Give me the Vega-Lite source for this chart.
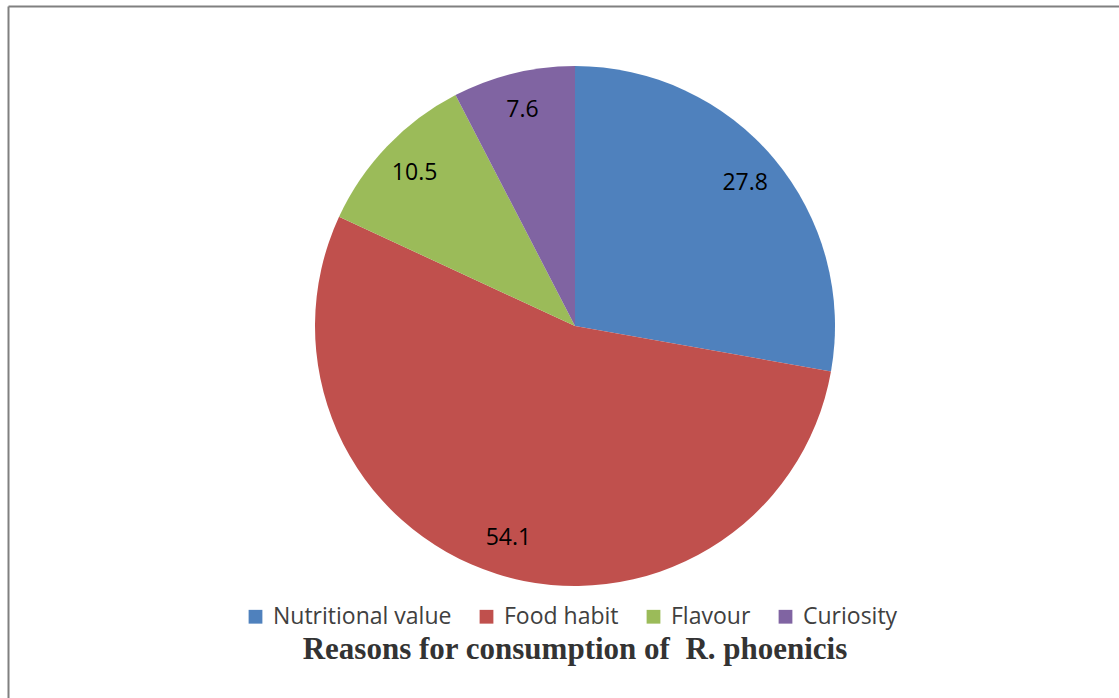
{
  "$schema": "https://vega.github.io/schema/vega-lite/v6.json",
  "autosize": {"type": "none"},
  "width": 1088,
  "height": 640,
  "padding": {"left": 31, "top": 6, "right": 0, "bottom": 52},
  "background": "#ffffff",
  "config": {"view": {"stroke": null}},
  "title": {
    "text": "Reasons for consumption of\u00a0 R. phoenicis",
    "orient": "bottom",
    "frame": "group",
    "anchor": "middle",
    "offset": -8,
    "dy": -66,
    "font": "Liberation Serif",
    "fontSize": 31,
    "fontWeight": "bold",
    "color": "#333333"
  },
  "data": {
    "values": [
      {"reason": "Nutritional value", "share": 27.8, "rank": 1},
      {"reason": "Food habit", "share": 54.1, "rank": 2},
      {"reason": "Flavour", "share": 10.5, "rank": 3},
      {"reason": "Curiosity", "share": 7.6, "rank": 4}
    ]
  },
  "layer": [
    {
      "mark": {"type": "arc", "outerRadius": 260},
      "encoding": {
        "theta": {"field": "share", "type": "quantitative", "stack": true},
        "order": {"field": "rank", "type": "ordinal"},
        "color": {
          "field": "reason",
          "type": "nominal",
          "scale": {
            "domain": ["Nutritional value", "Food habit", "Flavour", "Curiosity"],
            "range": ["#4F81BD", "#C0504D", "#9BBB59", "#8064A2"]
          },
          "legend": {
            "title": null,
            "orient": "none",
            "direction": "horizontal",
            "legendX": 213,
            "legendY": 599,
            "padding": 0,
            "symbolType": "square",
            "symbolSize": 190,
            "symbolStrokeWidth": 0,
            "labelFont": "Open Sans",
            "labelFontSize": 23,
            "labelColor": "#404040",
            "labelLimit": 400,
            "labelOffset": 6,
            "columnPadding": 23
          }
        }
      }
    },
    {
      "mark": {"type": "text", "radius": 222, "font": "Open Sans", "fontSize": 23, "color": "#000000"},
      "encoding": {
        "theta": {"field": "share", "type": "quantitative", "stack": true},
        "order": {"field": "rank", "type": "ordinal"},
        "detail": {"field": "reason", "type": "nominal"},
        "text": {"field": "share", "type": "quantitative", "format": ".1f"}
      }
    },
    {
      "mark": {"type": "point", "opacity": 0},
      "encoding": {
        "x": {
          "datum": 0,
          "type": "quantitative",
          "scale": {"domain": [0, 1], "range": [-23, 1088]},
          "axis": {"orient": "top", "domainColor": "#808080", "domainWidth": 2, "ticks": false, "labels": false, "grid": false, "title": null}
        },
        "y": {
          "datum": 0,
          "type": "quantitative",
          "scale": {"domain": [0, 1], "range": [700, 0]},
          "axis": {"orient": "left", "offset": 23, "domainColor": "#808080", "domainWidth": 2, "ticks": false, "labels": false, "grid": false, "title": null}
        }
      }
    }
  ]
}
